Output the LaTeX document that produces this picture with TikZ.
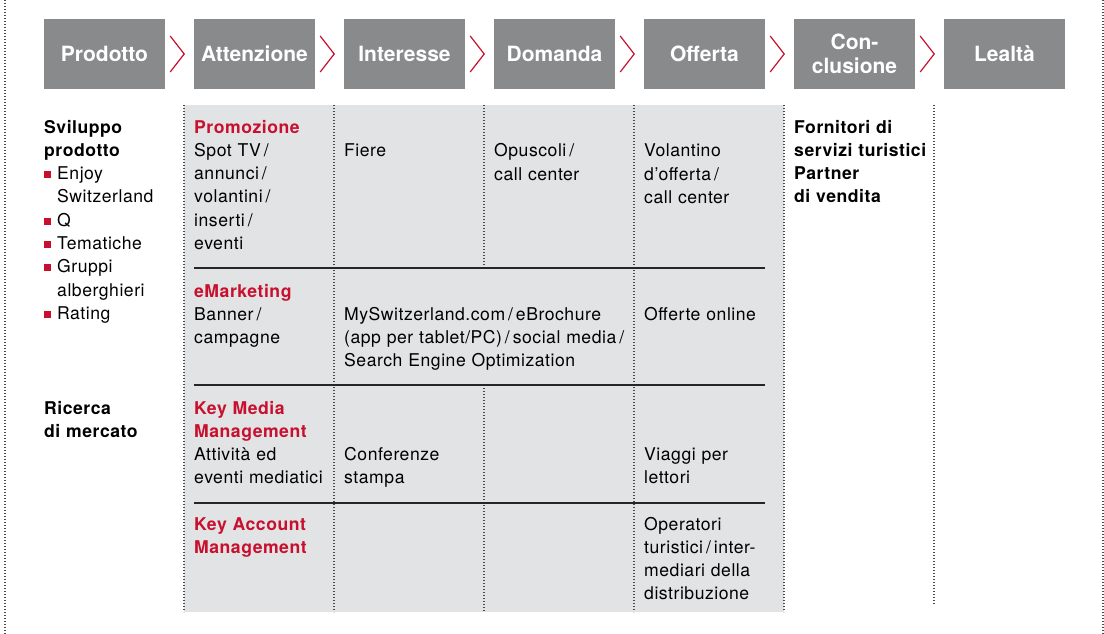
\documentclass[tikz,border=0pt]{standalone}
\usepackage{fontspec}
\setmainfont{TeX Gyre Heros}
\newfontfamily\bodyfont[LetterSpace=3]{TeX Gyre Heros}

\definecolor{stagegray}{HTML}{898A8C}
\definecolor{panelgray}{HTML}{E2E3E5}
\definecolor{swissred}{HTML}{C8102E}
\definecolor{dotgray}{HTML}{4A4A4A}

% red square for the list, heading in red
\newcommand{\redsq}{\textcolor{swissred}{\raisebox{1.5pt}{\rule{7pt}{7pt}}}\hspace{6pt}}
\newcommand{\hangline}{\hspace*{13pt}}
\newcommand{\hd}[1]{\textcolor{swissred}{\bfseries #1}}

\begin{document}
\begin{tikzpicture}[x=1pt,y=-1pt,
    stage/.style={fill=stagegray, text=white, font=\fontsize{21}{24}\selectfont\bfseries,
      minimum width=121pt, minimum height=70pt, inner sep=0pt, align=center},
    cell/.style={anchor=base west, inner sep=0pt, align=left,
      font=\bodyfont\fontsize{17.6}{23.3}\selectfont, text width=#1},
    cell/.default=145pt,
    sep/.style={draw=dotgray, line width=1.3pt, dash pattern=on 1.3pt off 1.7pt},
    bar/.style={draw=black!85, line width=2.6pt},
    chevron/.style={draw=swissred, line width=1.2pt}]

    \useasboundingbox (0,0) rectangle (1104,634);

    % Shaded block behind the four middle stages
    \fill[panelgray] (184,105) rectangle (784,612);

    % Dotted column lines
    \foreach \x in {184,334,634,784} {
      \draw[sep] (\x,105) -- (\x,612);
    }
    \draw[sep] (484,105) -- (484,268);
    \draw[sep] (484,385) -- (484,612);
    \draw[sep] (934,105) -- (934,604);
    \draw[sep] (5,0) -- (5,634);
    \draw[sep] (1103,0) -- (1103,634);

    % Rules between the rows
    \foreach \y in {268,385,503} {
      \draw[bar] (194,\y) -- (765,\y);
    }

    % For each stage ...
    \foreach \n/\name in {1/Prodotto,2/Attenzione,3/Interesse,4/Domanda,5/Offerta,6/{Con-\\clusione},7/Lealtà} {
      \pgfmathsetmacro\x{104.5+(\n-1)*150}
      \node[stage] (st\n) at (\x, 54) {\name};
    }

    % Chevrons between stages
    \foreach \n in {1,...,6} {
      \draw[chevron] ([shift={(5,-18)}]st\n.east) -- ([shift={(19,0)}]st\n.east)
        -- ([shift={(5,18)}]st\n.east);
    }

    % Prodotto
    \node[cell] (dev) at (44,133) {{\bfseries Sviluppo}\\{\bfseries prodotto}\\
      \redsq Enjoy\\\hangline Switzerland\\\redsq Q\\\redsq Tematiche\\
      \redsq Gruppi\\\hangline alberghieri\\\redsq Rating};
    \node[cell] (market) at (44,414) {\bfseries Ricerca\\di mercato};

    % Attenzione
    \node[cell] (promo) at (194,133) {\hd{Promozione}\\Spot TV\,/\\annunci\,/\\volantini\,/\\inserti\,/\\eventi};
    \node[cell] (emkt) at (194,297) {\hd{eMarketing}\\Banner\,/\\campagne};
    \node[cell] (kmm) at (194,414) {\hd{Key Media}\\\hd{Management}\\Attività ed\\eventi mediatici};
    \node[cell] (kam) at (194,530) {\hd{Key Account}\\\hd{Management}};

    % Interesse
    \node[cell] (fairs) at (344,157) {Fiere};
    \node[cell=295pt] (web) at (344,320) {MySwitzerland.com\,/\,eBrochure\\(app per tablet/PC)\,/\,social media\,/\\Search Engine Optimization};
    \node[cell] (press) at (344,460) {Conferenze\\stampa};

    % Domanda
    \node[cell] (brochure) at (494,157) {Opuscoli\,/\\call center};

    % Offerta
    \node[cell] (flyer) at (644,157) {Volantino\\d’offerta\,/\\call center};
    \node[cell] (online) at (644,320) {Offerte online};
    \node[cell] (trips) at (644,460) {Viaggi per\\lettori};
    \node[cell] (operators) at (644,530) {Operatori\\turistici\,/\,inter-\\mediari della\\distribuzione};

    % Conclusione
    \node[cell] (partners) at (794,133) {\bfseries Fornitori di\\servizi turistici\\Partner\\di vendita};

  \end{tikzpicture}
\end{document}
